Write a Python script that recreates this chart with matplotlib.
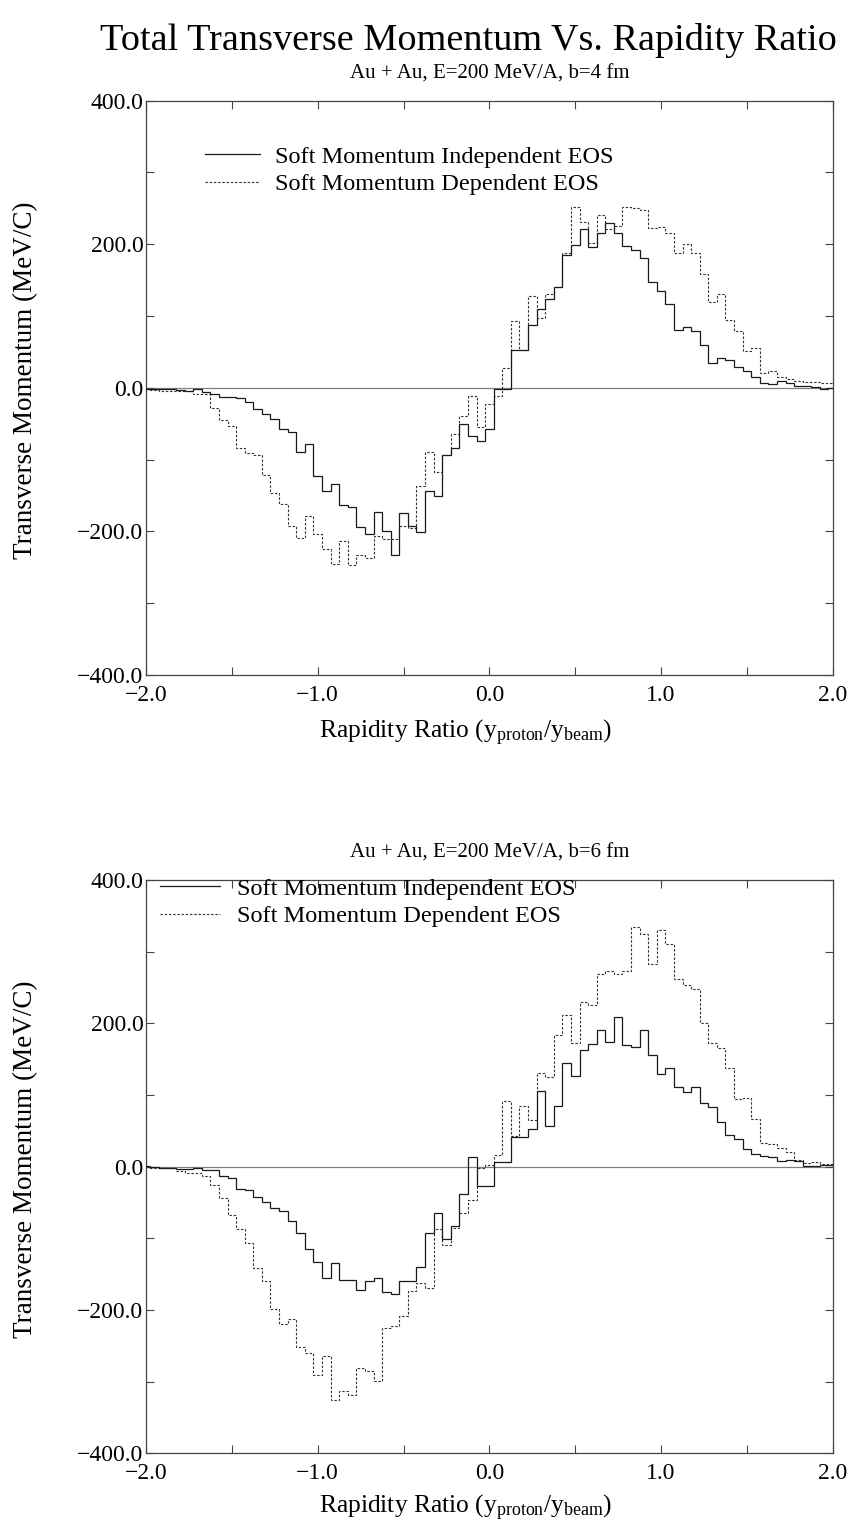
import numpy as np
import matplotlib
matplotlib.use("Agg")
import matplotlib.pyplot as plt
from matplotlib.ticker import MultipleLocator, FuncFormatter

plt.rcParams["font.family"] = ["Liberation Serif", "DejaVu Serif"]
plt.rcParams["mathtext.fontset"] = "custom"
plt.rcParams["mathtext.rm"] = "Liberation Serif"
plt.rcParams["mathtext.it"] = "Liberation Serif:italic"

# Rapidity-ratio bin centres (bin width 0.05)
rapidity = np.round(np.arange(-2.0, 2.0001, 0.05), 2)

# b = 4 fm
b4_independent = [
    -1, -1, -2, -2, -3, -5, -2, -6, -8, -13,
    -13, -14, -20, -30, -36, -43, -57, -61, -90, -78,
    -123, -143, -134, -163, -166, -194, -203, -173, -200, -233,
    -175, -193, -201, -144, -151, -94, -84, -51, -67, -74,
    -57, -1.5, -2, 52, 52, 87, 110, 123, 141, 185,
    199, 221, 196, 215, 230, 216, 197, 192, 181, 148,
    135, 116, 80, 85, 79, 60, 35, 41, 39, 29,
    24, 15, 7, 5, 9, 7, 3, 2, 1.5, -2,
    0,
]
b4_dependent = [
    -1, -3, -4, -4, -4, -5, -9, -9, -28, -45,
    -53, -84, -91, -94, -122, -146, -162, -193, -209, -179,
    -204, -225, -246, -213, -247, -233, -237, -206, -210, -210,
    -193, -195, -137, -90, -117, -94, -64, -39, -11, -54,
    -22, -12, 28, 93, 52, 128, 97, 131, 141, 188,
    252, 231, 202, 240, 221, 225, 252, 251, 248, 223,
    224, 215, 188, 200, 188, 159, 120, 130, 95, 79,
    51, 56, 20, 23, 15, 12, 10, 8, 8, 7,
    6,
]

# b = 6 fm
b6_independent = [
    1, -1, -1.5, -1.5, -3.5, -4, -2.5, -4.5, -4.5, -13,
    -16, -31, -33, -42, -49, -58, -62, -76, -92, -115,
    -133, -155, -135, -158, -158, -172, -159, -156, -175, -177,
    -160, -160, -140, -93, -64, -101, -83, -38, 14, -27,
    -27, 6, 7, 42, 42, 53, 105, 57, 84, 144,
    126, 163, 171, 191, 174, 209, 170, 167, 190, 155,
    129, 138, 111, 104, 111, 89, 83, 62, 44, 39,
    25, 17, 15, 14, 8, 9, 8, 1.5, 1.5, 2,
    2,
]
b6_dependent = [
    0, -1.5, -2, -2, -6, -9, -9, -13, -25, -44,
    -68, -87, -107, -141, -159, -199, -219, -213, -251, -260,
    -291, -264, -326, -313, -318, -281, -285, -299, -225, -222,
    -209, -174, -162, -169, -87, -109, -85, -64, -46, -2,
    2, 16, 91, 43, 84, 65, 130, 125, 183, 211,
    173, 230, 225, 269, 273, 268, 273, 334, 325, 282,
    330, 310, 262, 254, 248, 200, 173, 165, 137, 95,
    96, 66, 33, 31, 26, 20, 9, 5, 7, 4,
    4,
]

titles = ["Au + Au, E=200 MeV/A, b=4 fm", "Au + Au, E=200 MeV/A, b=6 fm"]
series_labels = ["Soft Momentum Independent EOS", "Soft Momentum Dependent EOS"]

edges = np.append(rapidity - 0.025, rapidity[-1] + 0.025)

fig = plt.figure(figsize=(8.54, 15.28), dpi=100)
ax_top = fig.add_axes([0.1710, 0.5582, 0.8041, 0.3760])
ax_bot = fig.add_axes([0.1710, 0.0488, 0.8041, 0.3754])

fig.text(0.548, 1 - 40 / 1528, "Total Transverse Momentum Vs. Rapidity Ratio",
         ha="center", va="center", fontsize=27.5)

fmt = FuncFormatter(lambda v, p: ("%.1f" % v).replace("-", "\u2212"))

panel_opts = [
    dict(legend=(0.086, 0.921), hlen=2.26, hpad=0.62, xlab=-0.0749),
    dict(legend=(0.020, 1.0033), hlen=2.47, hpad=0.70, xlab=-0.0689),
]

for ax, title, indep, dep, opt in zip(
        [ax_top, ax_bot], titles,
        [b4_independent, b6_independent], [b4_dependent, b6_dependent],
        panel_opts):
    ax.axhline(0, color="#808080", lw=0.9, zorder=1)
    ax.stairs(indep, edges, baseline=None, color="#1a1a1a", lw=0.9,
              label=series_labels[0], zorder=3)
    ax.stairs(dep, edges, baseline=None, color="#333333", lw=0.8,
              linestyle=(0, (2.2, 1.6)), label=series_labels[1], zorder=2)
    ax.set_xlim(-2, 2)
    ax.set_ylim(-400, 400)
    ax.xaxis.set_major_locator(MultipleLocator(1.0))
    ax.xaxis.set_minor_locator(MultipleLocator(0.5))
    ax.yaxis.set_major_locator(MultipleLocator(200))
    ax.yaxis.set_minor_locator(MultipleLocator(100))
    ax.xaxis.set_major_formatter(fmt)
    ax.yaxis.set_major_formatter(fmt)
    ax.tick_params(which="both", direction="in", top=True, right=True,
                   length=5.8, width=0.8, color="#444444", labelsize=17)
    ax.tick_params(axis="x", pad=7)
    ax.tick_params(axis="y", pad=2)
    for s in ax.spines.values():
        s.set_linewidth(0.9)
        s.set_color("#444444")
    ax.set_title(title, fontsize=15, pad=16)
    ax.set_ylabel("Transverse Momentum (MeV/C)", fontsize=19.5)
    ax.yaxis.set_label_coords(-0.157, 0.5136)
    ax.set_xlabel(r"Rapidity Ratio ($\mathrm{y_{proton}/y_{beam}}$)", fontsize=18.4)
    ax.xaxis.set_label_coords(0.466, opt["xlab"])
    ax.legend(loc="upper left", bbox_to_anchor=opt["legend"], frameon=False,
              fontsize=17.5, handlelength=opt["hlen"], handletextpad=opt["hpad"],
              labelspacing=0.22, borderpad=0, borderaxespad=0)

fig.savefig("out.png", dpi=100)
